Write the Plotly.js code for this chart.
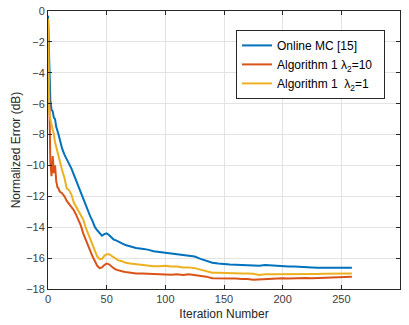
<!DOCTYPE html>
<html><head><meta charset="utf-8">
<script src="https://cdn.plot.ly/plotly-3.0.1.min.js"></script>
<style>html,body{margin:0;padding:0;background:#fff}#c{width:409px;height:325px}</style>
</head><body><div id="c"></div>
<script>
const iterX = [0,1,2,3,4,5,6,7,8,9,10,12,14,16,18,20,22,24,26,28,30,32,34,36,38,40,42,44,46,48,50,52,54,56,58,60,63,66,70,75,80,85,90,95,100,105,110,115,120,125,130,135,140,145,150,155,160,165,170,175,180,185,190,195,200,205,210,215,220,225,230,235,240,245,250,255,259];
const onlineMC = [-0.3,-3.5,-5.8,-6.4,-6.5,-6.9,-7.0,-7.5,-7.7,-8.0,-8.3,-8.9,-9.3,-9.6,-9.8,-10.2,-10.6,-11.0,-11.3,-11.8,-12.1,-12.5,-12.9,-13.3,-13.6,-14.0,-14.2,-14.4,-14.55,-14.45,-14.4,-14.5,-14.65,-14.8,-14.85,-14.95,-15.05,-15.15,-15.25,-15.35,-15.4,-15.45,-15.55,-15.6,-15.62,-15.68,-15.72,-15.8,-15.85,-15.9,-16.05,-16.2,-16.3,-16.35,-16.4,-16.42,-16.43,-16.45,-16.5,-16.52,-16.5,-16.45,-16.48,-16.47,-16.5,-16.55,-16.55,-16.58,-16.6,-16.6,-16.62,-16.62,-16.6,-16.62,-16.6,-16.6,-16.62];
const alg1L10 = [-0.5,-5.0,-9.8,-10.7,-9.4,-10.5,-10.0,-11.0,-11.4,-11.5,-11.7,-11.8,-12.0,-12.3,-12.5,-12.7,-12.9,-13.2,-13.5,-13.9,-14.4,-14.8,-15.1,-15.5,-15.9,-16.2,-16.5,-16.65,-16.6,-16.45,-16.35,-16.4,-16.55,-16.65,-16.75,-16.8,-16.85,-16.9,-16.95,-17.0,-17.0,-17.02,-17.0,-17.05,-17.05,-17.08,-17.05,-17.1,-17.05,-17.1,-17.15,-17.2,-17.3,-17.3,-17.32,-17.3,-17.32,-17.35,-17.35,-17.4,-17.38,-17.35,-17.35,-17.32,-17.3,-17.32,-17.3,-17.3,-17.28,-17.3,-17.28,-17.25,-17.25,-17.22,-17.2,-17.2,-17.2];
const alg1L1 = [-0.5,-6.5,-7.0,-7.3,-7.6,-8.0,-8.5,-8.8,-9.1,-9.5,-9.8,-10.3,-10.8,-11.5,-11.6,-11.9,-12.4,-12.7,-13.0,-13.2,-13.5,-14.0,-14.4,-14.8,-15.2,-15.6,-15.9,-16.05,-16.05,-15.85,-15.75,-15.75,-15.85,-16.0,-16.1,-16.15,-16.2,-16.3,-16.35,-16.4,-16.45,-16.5,-16.52,-16.52,-16.5,-16.55,-16.55,-16.6,-16.6,-16.65,-16.75,-16.85,-16.95,-16.95,-16.97,-16.97,-16.97,-17.0,-17.0,-17.02,-17.1,-17.05,-17.05,-17.05,-17.05,-17.07,-17.05,-17.05,-17.05,-17.03,-17.03,-17.02,-17.02,-17.0,-17.0,-17.0,-17.0];
const seriesNames = ['Online MC [15]','Algorithm 1 λ<sub>2</sub>=10\u00a0\u00a0','Algorithm 1  λ<sub>2</sub>=1'];
const seriesColors = ['#0072BD','#D95319','#EDB120'];
const xTicks = [0,50,100,150,200,250,300];
const yTicks = [-18,-16,-14,-12,-10,-8,-6,-4,-2,0];

const ys = [onlineMC, alg1L10, alg1L1];
const traces = ys.map((y,i)=>({x:iterX,y:y,type:'scatter',mode:'lines',name:seriesNames[i],line:{color:seriesColors[i],width:2}}));
const axBase = {showline:true,mirror:'ticks',linecolor:'#262626',linewidth:1,ticks:'inside',ticklen:4,tickcolor:'#262626',showgrid:true,gridcolor:'#e3e3e3',zeroline:false,tickfont:{size:11,color:'#404040',family:'Liberation Sans, Arial, sans-serif'}};
const layout = {
  width:409,height:325,margin:{l:48,r:9,t:11,b:36},
  paper_bgcolor:'#fff',plot_bgcolor:'#fff',
  font:{family:'Liberation Sans, Arial, sans-serif',color:'#262626'},
  xaxis:Object.assign({},axBase,{range:[0,300],tickvals:xTicks,title:{text:'Iteration Number',font:{size:12},standoff:5}}),
  yaxis:Object.assign({},axBase,{range:[-18,0],tickvals:yTicks,title:{text:'Normalized Error (dB)',font:{size:12},standoff:2}}),
  showlegend:true,
  legend:{x:0.534,y:0.932,xanchor:'left',yanchor:'top',bgcolor:'#fff',bordercolor:'#262626',borderwidth:1,font:{size:12,color:'#000'},itemwidth:30,tracegroupgap:0}
};
Plotly.newPlot('c',traces,layout,{displayModeBar:false,staticPlot:true});
</script></body></html>
